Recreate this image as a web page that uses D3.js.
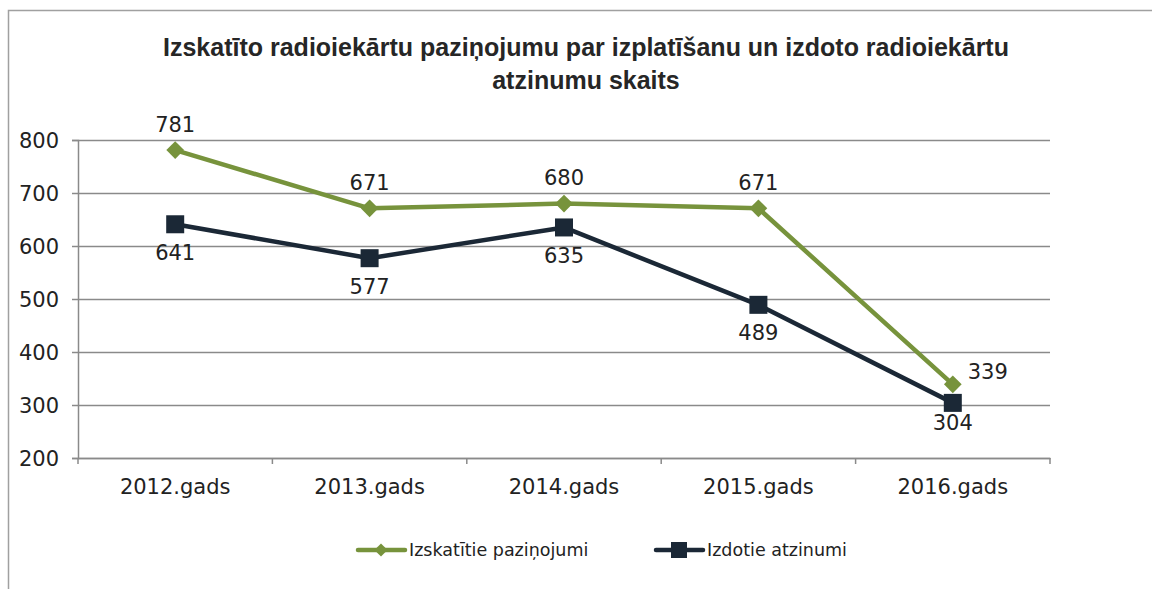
<!DOCTYPE html>
<html><head><meta charset="utf-8">
<script src="https://cdn.jsdelivr.net/npm/d3@7"></script>
<style>html,body{margin:0;padding:0;background:#fff;}svg{display:block;}</style>
</head><body>
<svg id="c" width="1152" height="589"></svg>
<script>
const categories = ["2012.gads","2013.gads","2014.gads","2015.gads","2016.gads"];
const seriesNames = ["Izskatītie paziņojumi","Izdotie atzinumi"];
const reviewed = [781, 671, 680, 671, 339];
const issued = [641, 577, 635, 489, 304];
const yTicks = [200, 300, 400, 500, 600, 700, 800];
const titleLines = ["Izskatīto radioiekārtu paziņojumu par izplatīšanu un izdoto radioiekārtu", "atzinumu skaits"];

const svg = d3.select("#c");
const green = "#77933c", dark = "#1b2836";
const font = "'DejaVu Sans', sans-serif";

svg.append("rect").attr("x", 8.5).attr("y", 10.5).attr("width", 1200).attr("height", 700)
  .attr("fill", "#fff").attr("stroke", "#a0a0a0").attr("stroke-width", 1.5);

const m = {left: 78, right: 1050, top: 140, bottom: 458};
const x = d3.scaleBand().domain(categories).range([m.left, m.right]);
const y = d3.scaleLinear().domain([200, 800]).range([m.bottom, m.top]);

// title
svg.append("g").selectAll("text").data(titleLines).join("text")
  .attr("x", 586).attr("y", (d, i) => 56 + i * 33)
  .attr("text-anchor", "middle")
  .attr("font-family", "'Liberation Sans Narrow', 'Arial Narrow', sans-serif")
  .attr("font-weight", "bold").attr("font-size", 25).attr("fill", "#262626")
  .text(d => d);

// gridlines + y axis
const yAxis = svg.append("g").attr("transform", `translate(${m.left},0)`)
  .call(d3.axisLeft(y).tickValues(yTicks).tickSize(6).tickSizeInner(-(m.right - m.left)).tickPadding(19));
yAxis.select(".domain").attr("stroke", "#8a8a8a").attr("stroke-width", 1.5);
yAxis.selectAll(".tick line").attr("stroke", "#8a8a8a").attr("stroke-width", 1.5).attr("x1", -6);
yAxis.selectAll(".tick text").attr("font-family", font).attr("font-size", 21).attr("fill", "#222").attr("dy", "0.36em");

// x axis
const xAxis = svg.append("g").attr("transform", `translate(0,${m.bottom})`)
  .call(d3.axisBottom(x).tickSize(0).tickPadding(21));
xAxis.select(".domain").attr("stroke", "#8a8a8a").attr("stroke-width", 1.5);
xAxis.selectAll(".tick text").attr("font-family", font).attr("font-size", 21).attr("fill", "#222");
const bounds = categories.map(c => x(c)).concat([m.right]);
svg.append("g").selectAll("line").data(bounds).join("line")
  .attr("x1", d => d).attr("x2", d => d).attr("y1", m.bottom).attr("y2", m.bottom + 6)
  .attr("stroke", "#8a8a8a").attr("stroke-width", 1.5);

const cx = c => x(c) + x.bandwidth() / 2;
const line = d3.line().x((d, i) => cx(categories[i])).y(d => y(d));

svg.append("path").datum(reviewed).attr("d", line).attr("fill", "none")
  .attr("stroke", green).attr("stroke-width", 4.5).attr("stroke-linejoin", "round");
svg.append("path").datum(issued).attr("d", line).attr("fill", "none")
  .attr("stroke", dark).attr("stroke-width", 4.5).attr("stroke-linejoin", "round");

const diamond = d3.symbol().type(d3.symbolDiamond2).size(200);
svg.append("g").selectAll("path").data(reviewed).join("path")
  .attr("d", diamond)
  .attr("transform", (d, i) => `translate(${cx(categories[i])},${y(d)})`)
  .attr("fill", green);
svg.append("g").selectAll("rect").data(issued).join("rect")
  .attr("x", (d, i) => cx(categories[i]) - 9).attr("y", d => y(d) - 9)
  .attr("width", 18).attr("height", 18).attr("fill", dark);

// labels
const last = categories.length - 1;
svg.append("g").selectAll("text").data(reviewed).join("text")
  .attr("x", (d, i) => cx(categories[i]) + (i === last ? 35 : 0))
  .attr("y", (d, i) => y(d) + (i === last ? -13 : -26))
  .attr("dy", "0.36em").attr("text-anchor", "middle")
  .attr("font-family", font).attr("font-size", 21).attr("fill", "#222")
  .text(d => d);
svg.append("g").selectAll("text").data(issued).join("text")
  .attr("x", (d, i) => cx(categories[i]))
  .attr("y", (d, i) => y(d) + (i === last ? 20 : 28))
  .attr("dy", "0.36em").attr("text-anchor", "middle")
  .attr("font-family", font).attr("font-size", 21).attr("fill", "#222")
  .text(d => d);

// legend
const legend = svg.append("g");
const legItems = [
  {name: seriesNames[0], color: green, x: 358, marker: "diamond"},
  {name: seriesNames[1], color: dark, x: 656, marker: "square"}
];
const ly = 550;
legItems.forEach(it => {
  legend.append("line").attr("x1", it.x).attr("x2", it.x + 47).attr("y1", ly).attr("y2", ly)
    .attr("stroke", it.color).attr("stroke-width", 4.5).attr("stroke-linecap", "round");
  if (it.marker === "diamond") {
    legend.append("path").attr("d", d3.symbol().type(d3.symbolDiamond2).size(110))
      .attr("transform", `translate(${it.x + 23},${ly})`).attr("fill", it.color);
  } else {
    legend.append("rect").attr("x", it.x + 15).attr("y", ly - 8).attr("width", 16).attr("height", 16).attr("fill", it.color);
  }
  legend.append("text").attr("x", it.x + 51).attr("y", ly).attr("dy", "0.36em")
    .attr("font-family", font).attr("font-size", 17.5).attr("fill", "#222").text(it.name);
});
</script>
</body></html>
